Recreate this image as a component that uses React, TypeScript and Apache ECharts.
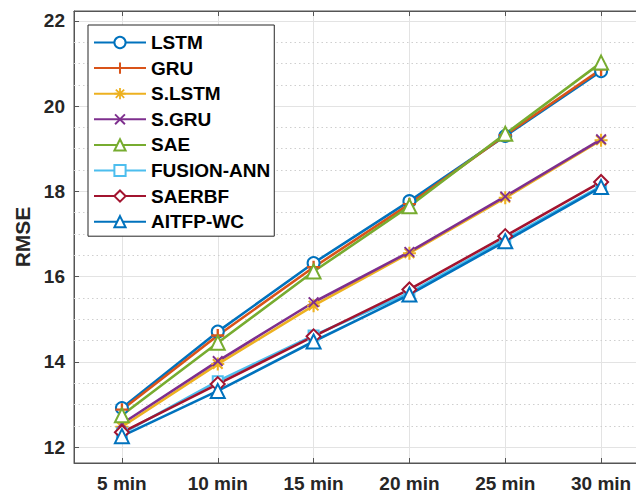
import React, { useEffect, useRef } from "react";
import * as echarts from "echarts";

const categories = ["5 min", "10 min", "15 min", "20 min", "25 min", "30 min"];
const minutes = [5, 10, 15, 20, 25, 30];

const lstm = [12.92, 14.71, 16.32, 17.77, 19.3, 20.82];
const gru = [12.88, 14.62, 16.22, 17.7, 19.32, 20.86];
const sLstm = [12.48, 13.95, 15.32, 16.55, 17.85, 19.2];
const sGru = [12.55, 14.02, 15.4, 16.58, 17.88, 19.22];
const sae = [12.75, 14.45, 16.12, 17.65, 19.35, 21.02];
const fusionAnn = [12.32, 13.55, 14.62, 15.62, 16.88, 18.12];
const saerbf = [12.35, 13.48, 14.6, 15.7, 16.95, 18.22];
const aitfpWc = [12.26, 13.32, 14.48, 15.58, 16.83, 18.1];

const minorGridValues = [12.5, 13, 13.5, 14.5, 15, 15.5, 16.5, 17, 17.5, 18.5, 19, 19.5, 20.5, 21, 21.5];

const FONT = 'Arial, "Liberation Sans", sans-serif';

const PLUS = "path://M4.1,0H5.9V4.1H10V5.9H5.9V10H4.1V5.9H0V4.1H4.1Z";
const CROSS = "path://M1.2,0L5,3.8L8.8,0L10,1.2L6.2,5L10,8.8L8.8,10L5,6.2L1.2,10L0,8.8L3.8,5L0,1.2Z";
const STAR =
  "path://M4.2,0H5.8V3.1L8.2,0.8L9.3,1.9L6.9,4.2H10V5.8H6.9L9.3,8.1L8.2,9.2L5.8,6.9V10H4.2V6.9L1.8,9.2L0.7,8.1L3.1,5.8H0V4.2H3.1L0.7,1.9L1.8,0.8L4.2,3.1Z";

const seriesDefs = [
  { name: "LSTM", data: lstm, color: "#0072BD", symbol: "emptyCircle", size: 12 },
  { name: "GRU", data: gru, color: "#D95319", symbol: PLUS, size: 13 },
  { name: "S.LSTM", data: sLstm, color: "#EDB120", symbol: STAR, size: 13 },
  { name: "S.GRU", data: sGru, color: "#7E2F8E", symbol: CROSS, size: 11 },
  { name: "SAE", data: sae, color: "#77AC30", symbol: "emptyTriangle", size: 14 },
  { name: "FUSION-ANN", data: fusionAnn, color: "#4DBEEE", symbol: "emptyRect", size: 10 },
  { name: "SAERBF", data: saerbf, color: "#A2142F", symbol: "emptyDiamond", size: 14 },
  { name: "AITFP-WC", data: aitfpWc, color: "#0072BD", symbol: "emptyTriangle", size: 14 },
];

export default function App() {
  const ref = useRef<HTMLDivElement>(null);
  useEffect(() => {
    if (!ref.current) return;
    const chart = echarts.init(ref.current, null, { renderer: "svg" });
    const isInt = (v: number) => Math.abs(v - Math.round(v)) < 1e-6;
    const series: any[] = seriesDefs.map((s, i) => ({
      name: s.name,
      type: "line",
      xAxisIndex: 0,
      yAxisIndex: 0,
      data: s.data.map((v, j) => [minutes[j], v]),
      symbol: s.symbol,
      symbolSize: s.size,
      showAllSymbol: true,
      z: 3,
      color: s.color,
      lineStyle: { color: s.color, width: 2.6 },
      itemStyle: { color: s.color, borderColor: s.color, borderWidth: s.symbol.startsWith("empty") ? 2.2 : 0 },
      emphasis: { disabled: true },
      ...(i === 0
        ? {
            markLine: {
              silent: true,
              symbol: "none",
              z: 1,
              label: { show: false },
              lineStyle: { color: "#cfcfcf", type: [1.5, 3], width: 1 },
              emphasis: { disabled: true },
              data: minorGridValues.map((v) => ({ yAxis: v })),
            },
          }
        : {}),
    }));

    chart.setOption({
      animation: false,
      backgroundColor: "#ffffff",
      grid: {
        left: 74,
        top: 11,
        width: 575,
        height: 452,
        outerBoundsMode: "none",
        containLabel: false,
        show: true,
        borderColor: "#555555",
        borderWidth: 1,
      },
      legend: {
        orient: "vertical",
        left: 88,
        top: 25,
        padding: [8, 4, 5, 5],
        itemWidth: 52,
        itemHeight: 14,
        itemGap: 6.6,
        backgroundColor: "#ffffff",
        borderColor: "#262626",
        borderWidth: 1,
        textStyle: { fontFamily: FONT, fontWeight: "bold", fontSize: 19, color: "#000000" },
        data: seriesDefs.map((s) => s.name),
      },
      xAxis: [
        {
          type: "value",
          min: 2.5,
          max: 32.5,
          splitNumber: 6,
          axisLine: { show: true, lineStyle: { color: "#555555", width: 1 } },
          axisTick: { show: true, inside: true, length: 5, lineStyle: { color: "#555555" } },
          axisLabel: {
            margin: 11,
            fontFamily: FONT,
            fontWeight: "bold",
            fontSize: 19,
            color: "#262626",
            formatter: (v: number) => {
              const idx = minutes.indexOf(Math.round(v));
              return isInt(v) && idx >= 0 ? categories[idx] : "";
            },
          },
          splitLine: { show: true, lineStyle: { color: "#e3e3e3", width: 1 } },
        },
        {
          type: "value",
          position: "top",
          min: 2.5,
          max: 32.5,
          splitNumber: 6,
          axisLine: { show: true, lineStyle: { color: "#555555", width: 1 } },
          axisTick: { show: true, inside: true, length: 5, lineStyle: { color: "#555555" } },
          axisLabel: { show: false },
          splitLine: { show: false },
        },
      ],
      yAxis: {
        type: "value",
        min: 11.63,
        max: 22.23,
        name: "RMSE",
        nameLocation: "middle",
        nameGap: 38,
        nameTextStyle: { fontFamily: FONT, fontWeight: "bold", fontSize: 21, color: "#262626" },
        axisLine: { show: true, lineStyle: { color: "#555555", width: 1 } },
        axisTick: { show: true, inside: true, length: 5, lineStyle: { color: "#555555" } },
        axisLabel: {
          margin: 9,
          fontFamily: FONT,
          fontWeight: "bold",
          fontSize: 19,
          color: "#262626",
          formatter: (v: number) => (isInt(v) ? String(Math.round(v)) : ""),
        },
        splitLine: { show: true, lineStyle: { color: "#e3e3e3", width: 1 } },
      },
      series,
    });
    return () => chart.dispose();
  }, []);
  return <div ref={ref} style={{ position: "fixed", left: 0, top: 0, width: 636, height: 495 }} />;
}
